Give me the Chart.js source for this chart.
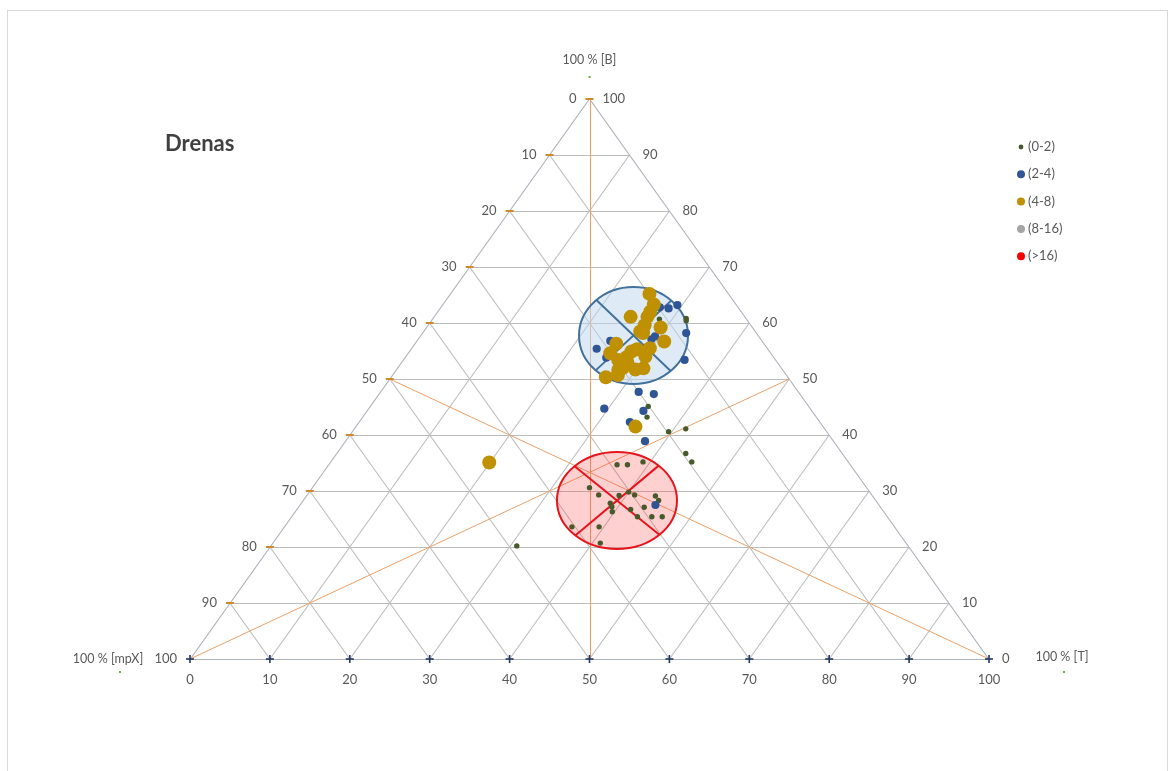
<!DOCTYPE html>
<html>
<head>
<meta charset="utf-8">
<script src="https://cdn.jsdelivr.net/npm/chart.js@4.4.1/dist/chart.umd.min.js"></script>
<style>
  html, body { margin: 0; padding: 0; background: #ffffff; }
  #wrap { width: 1170px; height: 771px; position: relative; }
</style>
</head>
<body>
<div id="wrap"><canvas id="c" width="1170" height="771"></canvas></div>
<script>
// Ternary composition of the samples, in percent: B (apex), T (right corner); mpX = 100 - B - T
const seriesNames = ['(0-2)', '(2-4)', '(4-8)', '(8-16)', '(>16)'];

const grade0to2B = [45.1, 43.2, 40.6, 41.1, 36.7, 35.2, 34.7, 34.7, 35.2, 30.6, 29.3, 29.2, 29.8, 29.3, 29.1, 28.3,
                    27.8, 27.2, 26.3, 26.7, 27.1, 25.4, 25.4, 25.4, 23.6, 23.6, 20.7, 20.2, 60.7, 60.8, 60.4];
const grade0to2T = [34.8, 35.6, 39.6, 41.5, 43.7, 45.2, 36.1, 37.4, 39.1, 34.7, 36.5, 39.1, 40.0, 41.0, 43.7, 44.5,
                    38.7, 39.2, 39.7, 41.8, 43.3, 43.3, 45.1, 46.4, 36.0, 39.4, 41.0, 30.8, 28.4, 31.7, 31.9];

const grade2to4B = [63.2, 62.6, 62.8, 58.2, 57.6, 57.1, 55.4, 56.8, 53.4, 47.7, 47.3, 44.7, 44.3, 42.3, 38.9, 27.5, 53.8];
const grade2to4T = [29.4, 28.6, 27.4, 33.0, 29.4, 29.2, 23.2, 24.2, 35.2, 32.3, 34.4, 29.5, 34.6, 33.9, 37.5, 44.5, 25.2];

const grade4to8B = [65.2, 63.3, 62.0, 61.1, 61.1, 59.2, 59.6, 58.5, 56.7, 56.3, 54.6, 55.3, 54.9, 53.9,
                    53.4, 51.9, 51.7, 52.0, 51.6, 50.3, 54.0, 55.5, 52.9, 50.7, 58.2, 41.5, 35.1];
const grade4to8T = [24.9, 26.4, 26.6, 24.6, 26.7, 29.3, 27.1, 27.1, 31.0, 25.2, 25.3, 28.3, 27.8, 27.7,
                    26.9, 30.8, 29.9, 28.2, 27.8, 26.9, 30.0, 29.8, 28.3, 28.2, 27.6, 35.0, 19.9];

const grade8to16B = [];
const grade8to16T = [];
const gradeOver16B = [];
const gradeOver16T = [];

// Axis tick values (percent) along the triangle sides
const tickValues = [0, 10, 20, 30, 40, 50, 60, 70, 80, 90, 100];

const FONT = 'Lato, "Open Sans", "DejaVu Sans", sans-serif';
const TEXT = '#595959';

// Ternary (B, T) -> plane of the scatter chart: x = T + B/2, y = B
function toPlane(B, T) {
  return B.map((b, i) => ({ x: T[i] + b / 2, y: b }));
}

// Group outlines (ellipse centre and radii in plot units, cross angles in degrees)
const groupShapes = [
  { cx: 55.51, cy: 57.77, rx: 6.82, ry: 8.66, angles: [47, 134],
    fill: 'rgba(189,215,238,0.50)', stroke: '#41719c' },
  { cx: 53.44, cy: 28.30, rx: 7.51, ry: 8.66, angles: [45, 134],
    fill: 'rgba(255,60,60,0.24)', stroke: '#e8141c' }
];

const ternaryFrame = {
  id: 'ternaryFrame',
  beforeDatasetsDraw(chart) {
    const ctx = chart.ctx;
    const xs = chart.scales.x, ys = chart.scales.y;
    const P = (T, B) => [xs.getPixelForValue(T + B / 2), ys.getPixelForValue(B)];
    const seg = (a, b) => { ctx.beginPath(); ctx.moveTo(a[0], a[1]); ctx.lineTo(b[0], b[1]); ctx.stroke(); };
    const crisp = v => Math.round(v) + 0.5;

    ctx.save();
    // outer frame of the sheet
    ctx.strokeStyle = '#d9d9d9';
    ctx.lineWidth = 1;
    ctx.strokeRect(7.5, 10.5, 1160, 800);

    // triangular grid every 10 %
    ctx.strokeStyle = '#bcbcbc';
    ctx.lineWidth = 1.1;
    tickValues.slice(1, -1).forEach(k => {
      const a = P(0, k), b = P(100 - k, k);
      seg([a[0], crisp(a[1])], [b[0], crisp(b[1])]);   // constant B
      seg(P(k, 0), P(k, 100 - k));                     // constant T
      seg(P(100 - k, 0), P(0, 100 - k));               // constant mpX
    });
    // triangle outline
    ctx.strokeStyle = '#aeb4bb';
    const c0 = P(0, 0), c1 = P(100, 0), c2 = P(0, 100);
    ctx.beginPath();
    ctx.moveTo(c0[0], crisp(c0[1])); ctx.lineTo(c1[0], crisp(c1[1]));
    ctx.lineTo(c2[0], c2[1]); ctx.closePath(); ctx.stroke();

    // medians
    ctx.strokeStyle = '#eea066';
    ctx.lineWidth = 1;
    const apex = P(0, 100), baseMid = P(50, 0);
    seg([crisp(apex[0]), apex[1]], [crisp(baseMid[0]), baseMid[1]]);
    seg(P(0, 0), P(50, 50));
    seg(P(100, 0), P(0, 50));

    // group ellipses with their axes
    groupShapes.forEach(s => {
      const cx = xs.getPixelForValue(s.cx), cy = ys.getPixelForValue(s.cy);
      const rx = Math.abs(xs.getPixelForValue(s.cx + s.rx) - cx);
      const ry = Math.abs(ys.getPixelForValue(s.cy + s.ry) - cy);
      ctx.beginPath();
      ctx.ellipse(cx, cy, rx, ry, 0, 0, Math.PI * 2);
      ctx.fillStyle = s.fill;
      ctx.fill();
      ctx.strokeStyle = s.stroke;
      ctx.lineWidth = 2;
      ctx.stroke();
      s.angles.forEach(deg => {
        const t = deg * Math.PI / 180;
        seg([cx + rx * Math.cos(t), cy + ry * Math.sin(t)],
            [cx - rx * Math.cos(t), cy - ry * Math.sin(t)]);
      });
    });

    // tick marks: dashes on the left side, crosses on the base
    ctx.strokeStyle = '#d08a2c';
    ctx.lineWidth = 2;
    tickValues.slice(1).forEach(b => {
      const p = P(0, b);
      seg([p[0] - 4, crisp(p[1]) - 0.5], [p[0] + 4, crisp(p[1]) - 0.5]);
    });
    ctx.strokeStyle = '#203864';
    ctx.lineWidth = 1.6;
    tickValues.forEach(t => {
      const p = P(t, 0);
      seg([p[0] - 4, p[1]], [p[0] + 4, p[1]]);
      seg([p[0], p[1] - 4], [p[0], p[1] + 4]);
    });
    ctx.restore();
  },
  afterDatasetsDraw(chart) {
    const ctx = chart.ctx;
    const xs = chart.scales.x, ys = chart.scales.y;
    const P = (T, B) => [xs.getPixelForValue(T + B / 2), ys.getPixelForValue(B)];
    ctx.save();
    ctx.fillStyle = TEXT;
    ctx.font = '13px ' + FONT;
    ctx.textBaseline = 'middle';

    // left side: mpX share, right side: B share, base: T share
    tickValues.forEach(b => {
      const l = P(0, b);
      ctx.textAlign = 'right';
      ctx.fillText(String(100 - b), l[0] - 13, l[1]);
      const r = P(100 - b, b);
      ctx.textAlign = 'left';
      ctx.fillText(String(b), r[0] + 13, r[1]);
    });
    ctx.textAlign = 'center';
    tickValues.forEach(t => {
      const p = P(t, 0);
      ctx.fillText(String(t), p[0], p[1] + 21);
    });

    // corner titles
    ctx.font = '12.5px ' + FONT;
    const apex = P(0, 100), left = P(0, 0), right = P(100, 0);
    ctx.fillText('100 % [B]', apex[0], apex[1] - 39);
    ctx.fillText('100 % [mpX]', left[0] - 82, left[1]);
    ctx.fillText('100 % [T]', right[0] + 73, right[1] - 2);
    ctx.fillStyle = '#70ad47';
    [[apex[0], apex[1] - 22], [left[0] - 70, left[1] + 13], [right[0] + 75, right[1] + 13]].forEach(p => {
      ctx.fillRect(p[0] - 1, p[1] - 1, 2, 2);
    });

    // chart title
    ctx.fillStyle = '#404040';
    ctx.font = 'bold 22px ' + FONT;
    ctx.textAlign = 'left';
    ctx.fillText('Drenas', 165, 144);

    // legend
    ctx.font = '13px ' + FONT;
    chart.data.datasets.forEach((ds, i) => {
      const y = 147 + i * 27.3;
      ctx.beginPath();
      ctx.arc(1021, y, i === 0 ? 2.4 : 4, 0, Math.PI * 2);
      ctx.fillStyle = ds.backgroundColor;
      ctx.fill();
      ctx.fillStyle = TEXT;
      ctx.fillText(ds.label, 1028, y);
    });
    ctx.restore();
  }
};

const seriesColors = ['#475a2c', '#2f5597', '#bf9000', '#a5a5a5', '#ff0000'];
const seriesRadius = [2.7, 4.1, 7, 5, 5];
const seriesB = [grade0to2B, grade2to4B, grade4to8B, grade8to16B, gradeOver16B];
const seriesT = [grade0to2T, grade2to4T, grade4to8T, grade8to16T, gradeOver16T];

new Chart(document.getElementById('c'), {
  type: 'scatter',
  data: {
    datasets: seriesNames.map((name, i) => ({
      label: name,
      data: toPlane(seriesB[i], seriesT[i]),
      backgroundColor: seriesColors[i],
      borderColor: seriesColors[i],
      borderWidth: 0,
      pointRadius: seriesRadius[i],
      pointHoverRadius: seriesRadius[i],
      order: seriesNames.length - i,
      clip: false
    }))
  },
  options: {
    responsive: false,
    animation: false,
    events: [],
    layout: { padding: { left: 190, right: 181, top: 99, bottom: 112 } },
    scales: {
      x: { type: 'linear', min: 0, max: 100, display: false },
      y: { type: 'linear', min: 0, max: 100, display: false }
    },
    plugins: { legend: { display: false }, tooltip: { enabled: false } }
  },
  plugins: [ternaryFrame]
});
</script>
</body>
</html>
